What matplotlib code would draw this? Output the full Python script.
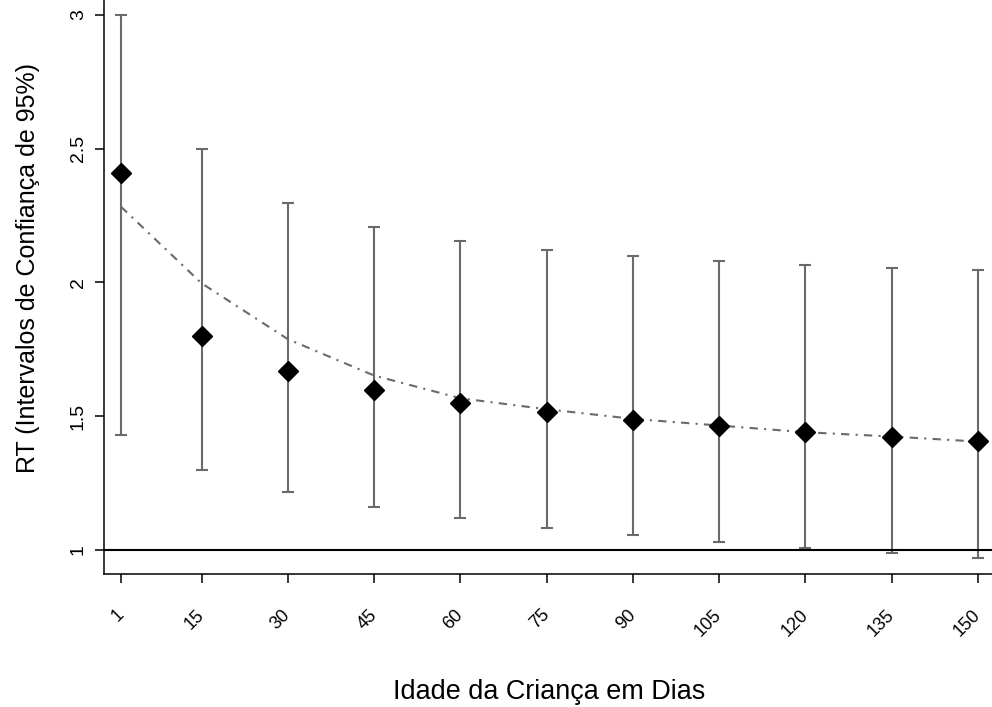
import matplotlib
matplotlib.use("Agg")
import matplotlib.pyplot as plt

plt.rcParams['font.family'] = ['Liberation Sans', 'DejaVu Sans']

days = [1, 15, 30, 45, 60, 75, 90, 105, 120, 135, 150]
tick_labels = ["1", "15", "30", "45", "60", "75", "90", "105", "120", "135", "150"]
rt = [2.41, 1.80, 1.669, 1.598, 1.551, 1.517, 1.487, 1.465, 1.44, 1.424, 1.407]
ci_low = [1.43, 1.299, 1.218, 1.162, 1.12, 1.082, 1.056, 1.03, 1.008, 0.99, 0.97]
ci_high = [3.00, 2.50, 2.297, 2.206, 2.154, 2.121, 2.10, 2.08, 2.065, 2.055, 2.045]
trend = [2.283, 1.997, 1.788, 1.652, 1.567, 1.526, 1.49, 1.465, 1.44, 1.424, 1.405]
y_ticks = [1, 1.5, 2, 2.5, 3]
y_tick_labels = ["1", "1.5", "2", "2.5", "3"]

W, H = 992, 707
fig = plt.figure(figsize=(W / 100, H / 100), dpi=100)
ax = fig.add_axes([104 / W, (H - 574) / H, 1 - 104 / W, 574 / H])

ax.set_xlim(-1.96, 152.43)
ax.set_ylim(0.91, 3.056)

grey = '#6a6a6a'
err_lo = [r - l for r, l in zip(rt, ci_low)]
err_hi = [h - r for r, h in zip(rt, ci_high)]
ax.errorbar(days, rt, yerr=[err_lo, err_hi], fmt='none', ecolor=grey,
            elinewidth=1.5, capsize=4.3, capthick=1.5, zorder=2)
ax.plot(days, trend, color=grey, lw=1.5, linestyle=(0, (4, 3, 1, 3)), zorder=3)
ax.plot(days, rt, linestyle='none', marker='D', color='black', ms=10.5,
        markeredgewidth=1, zorder=4)
ax.axhline(1, color='black', lw=1.5, zorder=3)

ax.spines['top'].set_visible(False)
ax.spines['right'].set_visible(False)
for s in ('left', 'bottom'):
    ax.spines[s].set_linewidth(1.1)

ax.set_xticks(days)
ax.set_xticklabels(tick_labels, rotation=45, ha='right', va='center',
                   rotation_mode='anchor')
ax.tick_params(axis='x', length=6.5, width=1.1, pad=21, labelsize=13)
ax.set_yticks(y_ticks)
ax.set_yticklabels(y_tick_labels, rotation=90, va='center')
ax.tick_params(axis='y', length=6.5, width=1.1, pad=5.8, labelsize=14)

ylab = fig.text(35 / W, 1 - 268 / H, "RT (Intervalos de Confiança de 95%)", rotation=90,
                ha='center', va='baseline', rotation_mode='anchor', fontsize=18)
xlab = fig.text(549 / W, 1 - 699 / H, "Idade da Criança em Dias", ha='center',
                va='baseline', fontsize=18)

# scale label fonts so their lengths match the reference
fig.canvas.draw()
r = fig.canvas.get_renderer()
bb = ylab.get_window_extent(r)
ylab.set_fontsize(18 * 410 / bb.height)
bb = xlab.get_window_extent(r)
xlab.set_fontsize(18 * 312 / bb.width)

fig.savefig("out.png", dpi=100)
